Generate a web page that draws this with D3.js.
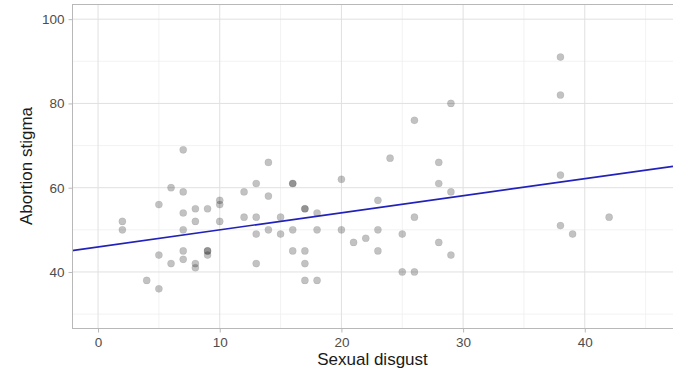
<!DOCTYPE html>
<html>
<head>
<meta charset="utf-8">
<script src="https://cdn.jsdelivr.net/npm/d3@7"></script>
<style>
  html, body { margin: 0; padding: 0; background: #fff; }
  svg { display: block; font-family: "Liberation Sans", Arial, sans-serif; }
</style>
</head>
<body>
<svg id="chart" width="673" height="370"></svg>
<script>
// Data
const sexualDisgust = [2,2,4,5,5,5,6,6,7,7,7,7,7,7,8,8,8,8,9,9,9,9,10,10,10,
  12,12,13,13,13,13,14,14,14,15,15,16,16,16,16,17,17,17,17,17,18,18,18,
  20,20,21,22,23,23,23,24,25,25,26,26,26,28,28,28,29,29,29,38,38,38,38,39,42];
const abortionStigma = [52,50,38,56,44,36,60,42,69,59,54,50,45,43,55,52,42,41,55,45,45,44,57,56,52,
  59,53,61,53,49,42,66,58,50,53,49,61,61,50,45,55,55,45,42,38,54,50,38,
  62,50,47,48,57,50,45,67,49,40,76,53,40,66,61,47,80,59,44,91,82,63,51,49,53];
const xTicks = [0, 10, 20, 30, 40];
const xMinor = [5, 15, 25, 35, 45];
const yTicks = [40, 60, 80, 100];
const yMinor = [30, 50, 70, 90];
const fitIntercept = [45.95];
const fitSlope = [0.405];
const xTitle = "Sexual disgust";
const yTitle = "Abortion stigma";

const svg = d3.select("#chart");
const L = 72, R = 673, T = 4, B = 328;

const x = d3.scaleLinear().domain([-2.14, 47.25]).range([L, R]);
const y = d3.scaleLinear().domain([26.7, 103.6]).range([B, T]);

svg.append("rect").attr("x", 0).attr("y", 0).attr("width", 673).attr("height", 370).attr("fill", "#fff");

// minor grid
const g = svg.append("g");
g.selectAll(".xm").data(xMinor).join("line")
  .attr("x1", d => x(d)).attr("x2", d => x(d)).attr("y1", T).attr("y2", B)
  .attr("stroke", "#efefef").attr("stroke-width", 0.8);
g.selectAll(".ym").data(yMinor).join("line")
  .attr("y1", d => y(d)).attr("y2", d => y(d)).attr("x1", L).attr("x2", R)
  .attr("stroke", "#efefef").attr("stroke-width", 0.8);
// major grid
g.selectAll(".xM").data(xTicks).join("line")
  .attr("x1", d => x(d)).attr("x2", d => x(d)).attr("y1", T).attr("y2", B)
  .attr("stroke", "#e0e0e0").attr("stroke-width", 1);
g.selectAll(".yM").data(yTicks).join("line")
  .attr("y1", d => y(d)).attr("y2", d => y(d)).attr("x1", L).attr("x2", R)
  .attr("stroke", "#e0e0e0").attr("stroke-width", 1);

// points
const pts = sexualDisgust.map((d, i) => ({ x: d, y: abortionStigma[i] }));
svg.append("g").selectAll("circle").data(pts).join("circle")
  .attr("cx", d => x(d.x)).attr("cy", d => y(d.y)).attr("r", 3.6)
  .attr("fill", "#000").attr("fill-opacity", 0.24)
  .attr("stroke", "#000").attr("stroke-opacity", 0.08).attr("stroke-width", 0.8);

// fit line
const xd = x.domain();
const fit = xd.map(v => ({ x: v, y: fitIntercept[0] + fitSlope[0] * v }));
svg.append("path").datum(fit)
  .attr("d", d3.line().x(d => x(d.x)).y(d => y(d.y)))
  .attr("fill", "none").attr("stroke", "#2222bb").attr("stroke-width", 1.7);

// panel border
svg.append("rect").attr("x", L + 0.5).attr("y", T + 0.5)
  .attr("width", R - L + 5).attr("height", B - T)
  .attr("fill", "none").attr("stroke", "#b8b8b8").attr("stroke-width", 1);

// axes
const xAxis = svg.append("g").attr("transform", `translate(0,${B + 0.5})`)
  .call(d3.axisBottom(x).tickValues(xTicks).tickSize(4).tickPadding(5).tickFormat(d3.format("d")));
const yAxis = svg.append("g").attr("transform", `translate(${L + 0.5},0)`)
  .call(d3.axisLeft(y).tickValues(yTicks).tickSize(4).tickPadding(4).tickFormat(d3.format("d")));
[xAxis, yAxis].forEach(a => {
  a.select(".domain").remove();
  a.selectAll(".tick line").attr("stroke", "#b8b8b8");
  a.selectAll(".tick text").attr("fill", "#4d4d4d").style("font-size", "13.5px")
    .style("font-family", "'Liberation Sans', Arial, sans-serif");
});

// titles
svg.append("text").attr("x", (L + R) / 2).attr("y", 365)
  .attr("text-anchor", "middle").attr("fill", "#1a1a1a")
  .style("font-size", "17px").text(xTitle);
svg.append("text").attr("transform", `translate(32,${(T + B) / 2}) rotate(-90)`)
  .attr("text-anchor", "middle").attr("fill", "#1a1a1a")
  .style("font-size", "17px").text(yTitle);
</script>
</body>
</html>
